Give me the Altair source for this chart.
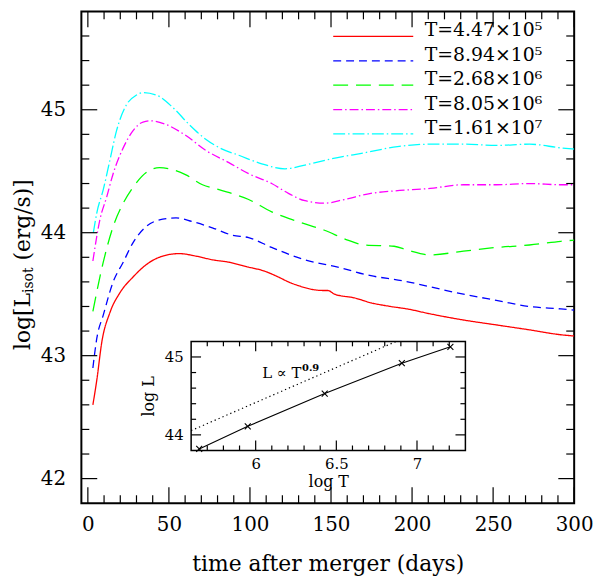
import altair as alt
import pandas as pd

FONT = "DejaVu Serif"

# ---------------- data ----------------
labels = ["T=4.47×10⁵", "T=8.94×10⁵", "T=2.68×10⁶", "T=8.05×10⁶", "T=1.61×10⁷"]
colors = ["#ff0000", "#0000ff", "#00ff00", "#ff00ff", "#00ffff"]
dashes = [[1, 0], [8, 5], [15, 8], [9, 3, 1.5, 3], [12, 3, 1.5, 3]]

red_t = [3.1, 5.5, 8.6, 13.6, 19.7, 27.9, 36, 46.2, 56.4, 66.6, 76.8, 87, 99.2, 108.4, 117.5,
         123.7, 129.8, 137.9, 145, 148.1, 152.2, 164.4, 174.6, 186.8, 197, 211.2, 231.7, 252,
         272.4, 291.8, 300]
red_L = [42.60, 42.80, 43.11, 43.35, 43.51, 43.64, 43.74, 43.81, 43.83, 43.81, 43.78, 43.76, 43.72,
         43.69, 43.64, 43.60, 43.57, 43.54, 43.53, 43.53, 43.50, 43.47, 43.43, 43.40, 43.38, 43.34,
         43.29, 43.25, 43.21, 43.17, 43.16]

blue_t = [3.1, 5.5, 9.5, 15.6, 21.8, 27.9, 36, 46.2, 54.4, 64.5, 76.8, 89, 99.2, 113.4, 133.9,
          154.2, 174.6, 194, 211, 231.7, 252, 272.4, 291.8, 300]
blue_L = [42.90, 43.14, 43.33, 43.60, 43.76, 43.92, 44.05, 44.11, 44.12, 44.09, 44.04, 43.98, 43.96,
          43.88, 43.78, 43.72, 43.65, 43.61, 43.56, 43.50, 43.45, 43.40, 43.38, 43.37]

green_t = [3.1, 9.5, 15.6, 21.8, 27.9, 36, 44.2, 50.3, 60.5, 70.7, 80.9, 99.2, 113.4, 129.8, 146,
           160.3, 170.5, 188.9, 197, 211.2, 231.7, 252, 272.4, 291.8, 300]
green_L = [43.36, 43.76, 44.05, 44.24, 44.37, 44.49, 44.53, 44.52, 44.47, 44.39, 44.35, 44.27, 44.17,
           44.09, 44.02, 43.94, 43.90, 43.89, 43.86, 43.82, 43.85, 43.88, 43.90, 43.93, 43.94]

magenta_t = [3.1, 7.5, 11.6, 15.6, 21.8, 27.9, 34, 39.1, 48.3, 60.5, 72.7, 87, 99.2, 113.4, 123.7,
             133.9, 146, 158.2, 174.6, 188.9, 211.2, 231.7, 252, 272.4, 291.8, 300]
magenta_L = [43.77, 44.11, 44.29, 44.48, 44.69, 44.83, 44.90, 44.91, 44.88, 44.79, 44.67, 44.57, 44.48,
             44.40, 44.32, 44.26, 44.24, 44.27, 44.32, 44.34, 44.36, 44.39, 44.39, 44.40, 44.39, 44.39]

cyan_t = [3.4, 5.5, 9.5, 13.6, 17.7, 23.8, 30, 34, 42.2, 52.3, 62.5, 72.7, 82.9, 93.1, 107.3, 121.6,
          133.9, 150.1, 170.5, 191, 211.2, 231.7, 252, 272.4, 291.8, 300]
cyan_L = [44.00, 44.16, 44.35, 44.59, 44.83, 45.04, 45.12, 45.14, 45.12, 45.02, 44.88, 44.76, 44.68,
          44.63, 44.56, 44.52, 44.55, 44.60, 44.65, 44.70, 44.72, 44.72, 44.71, 44.72, 44.69, 44.68]

inset_logT = [5.650, 5.951, 6.428, 6.906, 7.207]
inset_logL = [43.82, 44.11, 44.53, 44.92, 45.13]
fit_logT = [5.6, 6.872]
fit_logL = [44.055, 45.2]

x_major = [0, 50, 100, 150, 200, 250, 300]
x_minor = [v for v in range(0, 300, 10) if v % 50 != 0]
y_major = [42, 43, 44, 45]
y_minor = [42.2, 42.4, 42.6, 42.8, 43.2, 43.4, 43.6, 43.8, 44.2, 44.4, 44.6, 44.8,
           45.2, 45.4, 45.6]
ix_major = [6, 6.5, 7]
ix_minor = [5.7, 5.8, 5.9, 6.1, 6.2, 6.3, 6.4, 6.6, 6.7, 6.8, 6.9, 7.1, 7.2]
iy_major = [44, 45]
iy_minor = [44.2, 44.4, 44.6, 44.8]

# ---------------- layout ----------------
W, H = 497, 496
IX0, IX1, IY0, IY1 = 110.7, 387.3, 332.8, 442.8  # inset box in plot pixels

xs_main = alt.Scale(domain=[-4, 300], nice=False, zero=False)
ys_main = alt.Scale(domain=[41.8, 45.8], nice=False, zero=False)
xs_in = alt.Scale(domain=[5.6, 7.3], range=[IX0, IX1], nice=False, zero=False)
ys_in = alt.Scale(domain=[43.8, 45.2], range=[IY1, IY0], nice=False, zero=False)

ax_x = alt.Axis(values=x_major, ticks=False, tickSize=0, domain=False, grid=False,
                labelFont=FONT, labelFontSize=20, labelPadding=12, labelFlush=False,
                labelOverlap=False, labelColor="black", format="d",
                title="time after merger (days)", titleFont=FONT, titleFontSize=22,
                titleFontWeight="normal", titlePadding=19, titleColor="black")
ax_y = alt.Axis(values=y_major, ticks=False, tickSize=0, domain=False, grid=False,
                labelFont=FONT, labelFontSize=20, labelPadding=16, labelFlush=False,
                labelOverlap=False, labelColor="black", format="d", title=None)
ax_xi = alt.Axis(values=ix_major, ticks=False, tickSize=0, domain=False, grid=False, orient="bottom",
                 offset=-(H - IY1), labelFont=FONT, labelFontSize=15, labelPadding=6,
                 labelFlush=False, labelOverlap=False, labelColor="black", format=".1~f",
                 title="log T", titleFont=FONT, titleFontSize=16, titleFontWeight="normal",
                 titlePadding=2, titleColor="black")
ax_yi = alt.Axis(values=iy_major, ticks=False, tickSize=0, domain=False, grid=False, orient="left",
                 offset=-IX0, labelFont=FONT, labelFontSize=15, labelPadding=8,
                 labelFlush=False, labelOverlap=False, labelColor="black", format="d",
                 title="log L", titleFont=FONT, titleFontSize=16, titleFontWeight="normal",
                 titlePadding=8, titleColor="black")

one = pd.DataFrame({"k": [0]})

# ---------------- main panel ----------------
rows = []
for lab, ts, Ls in zip(labels, [red_t, blue_t, green_t, magenta_t, cyan_t],
                       [red_L, blue_L, green_L, magenta_L, cyan_L]):
    for i, (t, L) in enumerate(zip(ts, Ls)):
        rows.append({"series": lab, "t": t, "L": L, "i": i})
curve_df = pd.DataFrame(rows)

curves = alt.Chart(curve_df).mark_line(strokeWidth=1.3, interpolate="monotone", clip=True).encode(
    x=alt.X("t:Q", scale=xs_main, axis=ax_x),
    y=alt.Y("L:Q", scale=ys_main, axis=ax_y),
    color=alt.Color("series:N", scale=alt.Scale(domain=labels, range=colors), legend=None),
    strokeDash=alt.StrokeDash("series:N", scale=alt.Scale(domain=labels, range=dashes), legend=None),
    order="i:Q",
)


def vticks(vals, scale, axis, y_edge, length, inward):
    return alt.Chart(pd.DataFrame({"v": vals})).mark_rule(color="black", strokeWidth=1.2).encode(
        x=alt.X("v:Q", scale=scale, axis=axis),
        y=alt.value(y_edge), y2=alt.value(y_edge + inward * length))


def hticks(vals, scale, axis, x_edge, length, inward):
    return alt.Chart(pd.DataFrame({"v": vals})).mark_rule(color="black", strokeWidth=1.2).encode(
        y=alt.Y("v:Q", scale=scale, axis=axis),
        x=alt.value(x_edge), x2=alt.value(x_edge + inward * length))


main_layers = [curves]
for vals, ln in [(x_major, 16), (x_minor, 8)]:
    main_layers.append(vticks(vals, xs_main, ax_x, H, ln, -1))
    main_layers.append(vticks(vals, xs_main, ax_x, 0, ln, 1))
for vals, ln in [(y_major, 16), (y_minor, 8)]:
    main_layers.append(hticks(vals, ys_main, ax_y, 0, ln, 1))
    main_layers.append(hticks(vals, ys_main, ax_y, W, ln, -1))

# legend
LX0, LX1, TX, LY0, DY = 254, 334.7, 346.3, 25.2, 24.6
for i, lab in enumerate(labels):
    ldf = pd.DataFrame({"label": [lab]})
    main_layers.append(alt.Chart(ldf).mark_rule(color=colors[i], strokeDash=dashes[i], strokeWidth=1.3).encode(
        x=alt.value(LX0), x2=alt.value(LX1), y=alt.value(LY0 + i * DY)))
    main_layers.append(alt.Chart(ldf).mark_text(align="left", baseline="alphabetic", font=FONT,
                                                fontSize=19, color="black").encode(
        x=alt.value(TX), y=alt.value(LY0 + i * DY), text="label:N"))

# y-axis title with subscript
Y1 = 284
main_layers.append(alt.Chart(one).mark_text(text="log[L", angle=270, align="right", baseline="alphabetic",
                                            font=FONT, fontSize=22, color="black").encode(
    x=alt.value(-52), y=alt.value(Y1)))
main_layers.append(alt.Chart(one).mark_text(text="isot", angle=270, align="left", baseline="alphabetic",
                                            font=FONT, fontSize=14, color="black").encode(
    x=alt.value(-48.5), y=alt.value(Y1)))
main_layers.append(alt.Chart(one).mark_text(text="(erg/s)]", angle=270, align="left", baseline="alphabetic",
                                            font=FONT, fontSize=22, color="black").encode(
    x=alt.value(-52), y=alt.value(Y1 - 25.7 - 7)))

main = alt.layer(*main_layers)

# ---------------- inset ----------------
box_df = pd.DataFrame({"x0": [5.6], "x1": [7.3], "y0": [43.8], "y1": [45.2]})
inset_layers = [
    alt.Chart(box_df).mark_rect(fill="white", stroke="black", strokeWidth=1.5).encode(
        x=alt.X("x0:Q", scale=xs_in, axis=ax_xi), x2="x1:Q",
        y=alt.Y("y0:Q", scale=ys_in, axis=ax_yi), y2="y1:Q")
]
for vals, ln in [(ix_major, 10), (ix_minor, 5)]:
    inset_layers.append(vticks(vals, xs_in, ax_xi, IY1, ln, -1))
    inset_layers.append(vticks(vals, xs_in, ax_xi, IY0, ln, 1))
for vals, ln in [(iy_major, 10), (iy_minor, 5)]:
    inset_layers.append(hticks(vals, ys_in, ax_yi, IX0, ln, 1))
    inset_layers.append(hticks(vals, ys_in, ax_yi, IX1, ln, -1))

fit_df = pd.DataFrame({"logT": fit_logT, "logL": fit_logL})
pts_df = pd.DataFrame({"logT": inset_logT, "logL": inset_logL})
inset_layers.append(alt.Chart(fit_df).mark_line(color="black", strokeWidth=1.2, strokeDash=[1.3, 3]).encode(
    x=alt.X("logT:Q", scale=xs_in, axis=ax_xi), y=alt.Y("logL:Q", scale=ys_in, axis=ax_yi)))
inset_layers.append(alt.Chart(pts_df).mark_line(color="black", strokeWidth=1.1).encode(
    x=alt.X("logT:Q", scale=xs_in, axis=ax_xi), y=alt.Y("logL:Q", scale=ys_in, axis=ax_yi)))
inset_layers.append(alt.Chart(pts_df).mark_point(shape="M-1,-1L1,1M1,-1L-1,1", size=36, filled=False,
                                                 color="black", strokeWidth=1.1, opacity=1).encode(
    x=alt.X("logT:Q", scale=xs_in, axis=ax_xi), y=alt.Y("logL:Q", scale=ys_in, axis=ax_yi)))
inset_layers.append(alt.Chart(one).mark_text(text="L ∝ T", align="right", baseline="alphabetic",
                                             font=FONT, fontSize=15, color="black").encode(
    x=alt.value(222), y=alt.value(369.5)))
inset_layers.append(alt.Chart(one).mark_text(text="0.9", align="left", baseline="alphabetic",
                                             font=FONT, fontSize=10, fontWeight="bold", color="black").encode(
    x=alt.value(222.5), y=alt.value(363)))

inset = alt.layer(*inset_layers)

chart = alt.layer(main, inset).resolve_scale(x="independent", y="independent").properties(
    width=W, height=H, padding={"left": 4, "top": 0, "right": 0, "bottom": 0}
).configure_view(stroke="black", strokeWidth=2).configure_axis(labelColor="black", titleColor="black")

chart.save("out.html", embed_options={"renderer": "svg", "actions": False})
